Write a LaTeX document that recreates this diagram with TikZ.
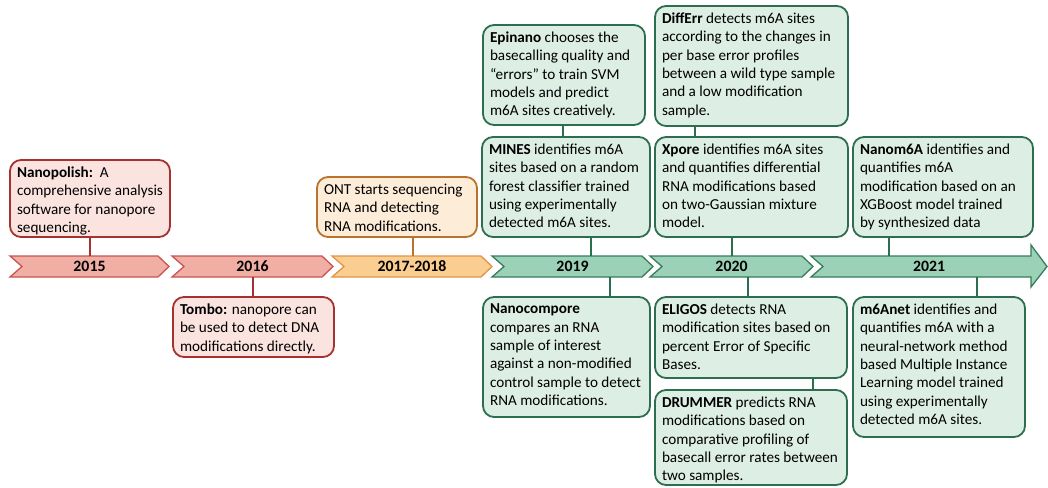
\documentclass[tikz,border=0pt]{standalone}
\usepackage{fontspec}
\setmainfont{Carlito}
\usetikzlibrary{backgrounds}
\definecolor{rboxf}{RGB}{251,228,224}
\definecolor{rboxd}{RGB}{165,50,48}
\definecolor{rchevf}{RGB}{240,174,164}
\definecolor{rchevd}{RGB}{200,85,80}
\definecolor{oboxf}{RGB}{253,236,216}
\definecolor{oboxd}{RGB}{185,115,45}
\definecolor{ochevf}{RGB}{250,206,145}
\definecolor{ochevd}{RGB}{222,150,70}
\definecolor{gboxf}{RGB}{221,238,229}
\definecolor{gboxd}{RGB}{45,110,80}
\definecolor{gchevf}{RGB}{155,209,182}
\definecolor{gchevd}{RGB}{55,125,90}
\newcommand\tlbox[7]{%
  \pgfmathsetmacro\bw{#5-#3}\pgfmathsetmacro\bh{#6-#4}%
  \pgfmathsetmacro\tw{#5-#3-14}\pgfmathsetmacro\th{#6-#4-14}%
  \pgfmathsetmacro\cx{(#3+#5)/2}\pgfmathsetmacro\cy{(#4+#6)/2}%
  \node[#2, minimum width=\bw pt, minimum height=\bh pt] (#1) at (\cx,\cy)
    {\parbox[c][\th pt][t]{\tw pt}{\raggedright #7}};}
\newcommand\chevron[3]{% node, fill, draw
  \fill[#2, draw=#3, line width=1.3pt, line join=miter]
    (#1.north west) -- ([xshift=-11pt]#1.north east) -- (#1.east)
    -- ([xshift=-11pt]#1.south east) -- (#1.south west)
    -- ([xshift=12pt]#1.west) -- cycle;}
\begin{document}
\begin{tikzpicture}[x=1pt,y=-1pt,
  font=\fontsize{15.2}{18.3}\selectfont,
  tbox/.style={rounded corners=11pt, line width=1.8pt, inner sep=6pt, outer sep=0.9pt},
  rbox/.style={tbox, draw=rboxd, fill=rboxf},
  obox/.style={tbox, draw=oboxd, fill=oboxf},
  gbox/.style={tbox, draw=gboxd, fill=gboxf},
  year/.style={minimum height=21pt, inner sep=0pt, outer sep=0pt, font=\fontsize{15.8}{18.3}\selectfont\bfseries},
  rconn/.style={draw=rboxd, line width=2pt},
  oconn/.style={draw=oboxd, line width=2pt},
  gconn/.style={draw=gboxd, line width=2pt}]
\useasboundingbox (0,0) rectangle (1048,487);

% timeline
\node[year, minimum width=159pt] (y15) at (89.5,266.5) {2015};
\node[year, minimum width=161pt] (y16) at (252.5,266.5) {2016};
\node[year, minimum width=160pt] (y1718) at (412,266.5) {2017-2018};
\node[year, minimum width=161pt] (y19) at (572.5,266.5) {2019};
\node[year, minimum width=163pt] (y20) at (731.5,266.5) {2020};
\node[year, minimum width=236pt] (y21) at (929,266.5) {2021};
\begin{scope}[on background layer]
  \chevron{y15}{rchevf}{rchevd}
  \chevron{y16}{rchevf}{rchevd}
  \chevron{y1718}{ochevf}{ochevd}
  \chevron{y19}{gchevf}{gchevd}
  \chevron{y20}{gchevf}{gchevd}
  \fill[gchevf, draw=gchevd, line width=1.3pt, line join=miter]
    (y21.north west) -- ([xshift=-16pt]y21.north east)
    -- ([xshift=-16pt,yshift=11pt]y21.north east)
    -- (y21.east) -- ([xshift=-16pt,yshift=-10pt]y21.south east)
    -- ([xshift=-16pt]y21.south east) -- (y21.south west)
    -- ([xshift=12pt]y21.west) -- cycle;
\end{scope}

% boxes
\tlbox{nanopolish}{rbox}{10}{160}{170}{237}{\textbf{Nanopolish:}\ \ A\\comprehensive analysis\\software for nanopore\\sequencing.}
\tlbox{tombo}{rbox}{173}{297}{334}{357}{\textbf{Tombo:} nanopore can\\be used to detect DNA\\modifications directly.}
\tlbox{ont}{obox}{317}{177}{477}{237}{ONT starts sequencing\\RNA and detecting\\RNA modifications.}
\tlbox{epinano}{gbox}{483}{25}{645}{125}{\textbf{Epinano} chooses the\\basecalling quality and\\``errors'' to train SVM\\models and predict\\m6A sites creatively.}
\tlbox{mines}{gbox}{482}{137}{650}{237}{\textbf{MINES} identifies m6A\\sites based on a random\\forest classifier trained\\using experimentally\\detected m6A sites.}
\tlbox{differr}{gbox}{655}{6}{848}{126}{\textbf{DiffErr} detects m6A sites\\according to the changes in\\per base error profiles\\between a wild type sample\\and a low modification\\sample.}
\tlbox{xpore}{gbox}{655}{137}{848}{237}{\textbf{Xpore} identifies m6A sites\\and quantifies differential\\RNA modifications based\\on two-Gaussian mixture\\model.}
\tlbox{nanom6a}{gbox}{853}{137}{1033}{237}{\textbf{Nanom6A} identifies and\\quantifies m6A\\modification based on an\\XGBoost model trained\\by synthesized data}
\tlbox{nanocompore}{gbox}{483}{297}{650}{417}{\textbf{Nanocompore}\\compares an RNA\\sample of interest\\against a non-modified\\control sample to detect\\RNA modifications.}
\tlbox{eligos}{gbox}{655}{297}{847}{378}{\textbf{ELIGOS} detects RNA\\modification sites based on\\percent Error of Specific\\Bases.}
\tlbox{drummer}{gbox}{655}{390}{847}{485}{\textbf{DRUMMER} predicts RNA\\modifications based on\\comparative profiling of\\basecall error rates between\\two samples.}
\tlbox{m6anet}{gbox}{853}{297}{1025}{437}{\textbf{m6Anet} identifies and\\quantifies m6A with a\\neural-network method\\based Multiple Instance\\Learning model trained\\using experimentally\\detected m6A sites.}

% connector x positions
\coordinate (k1) at (90,0);
\coordinate (k2) at (253,0);
\coordinate (k3) at (413,0);
\coordinate (k4) at (563,0);
\coordinate (k5) at (591,0);
\coordinate (k6) at (610,0);
\coordinate (k7) at (695,0);
\coordinate (k8) at (732,0);
\coordinate (k9) at (748,0);
\coordinate (k10) at (813,0);
\coordinate (k11) at (889,0);
\coordinate (k12) at (977,0);

\draw[rconn] (nanopolish.south -| k1) -- (y15.north -| k1);
\draw[rconn] (y16.south -| k2) -- (tombo.north -| k2);
\draw[oconn] (ont.south -| k3) -- (y1718.north -| k3);
\draw[gconn] (epinano.south -| k4) -- (mines.north -| k4);
\draw[gconn] (mines.south -| k5) -- (y19.north -| k5);
\draw[gconn] (y19.south -| k6) -- (nanocompore.north -| k6);
\draw[gconn] (differr.south -| k7) -- (xpore.north -| k7);
\draw[gconn] (xpore.south -| k8) -- (y20.north -| k8);
\draw[gconn] (y20.south -| k9) -- (eligos.north -| k9);
\draw[gconn] (eligos.south -| k10) -- (drummer.north -| k10);
\draw[gconn] (nanom6a.south -| k11) -- (y21.north -| k11);
\draw[gconn] (y21.south -| k12) -- (m6anet.north -| k12);
\end{tikzpicture}
\end{document}
